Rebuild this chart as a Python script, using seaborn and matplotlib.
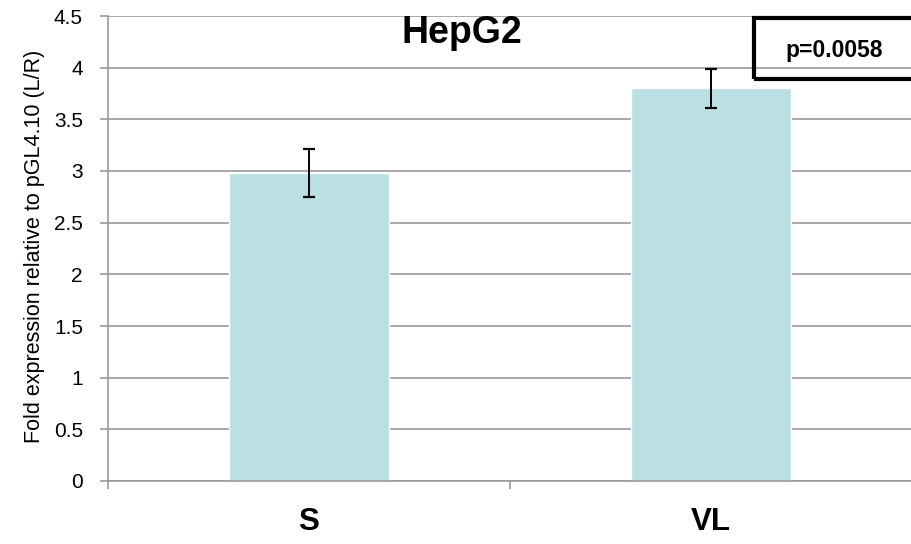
import matplotlib
matplotlib.use("Agg")
import matplotlib.pyplot as plt
from matplotlib.patches import Rectangle
import seaborn as sns
import pandas as pd

# Luciferase reporter data (HepG2)
categories = ["S", "VL"]
fold_expression = [2.98, 3.80]
error = [0.23, 0.19]
y_ticks = [0, 0.5, 1, 1.5, 2, 2.5, 3, 3.5, 4, 4.5]
y_tick_labels = ["0", "0.5", "1", "1.5", "2", "2.5", "3", "3.5", "4", "4.5"]
title = "HepG2"
p_label = "p=0.0058"
y_label = "Fold expression relative to pGL4.10 (L/R)"

df = pd.DataFrame({"group": categories, "value": fold_expression, "err": error})

sns.set_theme(style="white")
plt.rcParams["font.family"] = ["Liberation Sans", "DejaVu Sans"]
plt.rcParams["text.color"] = "black"
plt.rcParams["axes.labelcolor"] = "black"
plt.rcParams["xtick.labelcolor"] = "black"
plt.rcParams["ytick.labelcolor"] = "black"

BAR = "#bbe0e3"
GRID = "#9a9a9a"

fig = plt.figure(figsize=(9.12, 5.44), dpi=100)
ax = fig.add_axes([108 / 912, 63 / 544, 804 / 912, 465 / 544])

sns.barplot(data=df, x="group", y="value", color=BAR, width=0.4,
            errorbar=None, saturation=1, ax=ax, zorder=2)
ax.errorbar(range(len(categories)), df["value"], yerr=df["err"], fmt="none",
            ecolor="black", elinewidth=1.4, capsize=4.3, capthick=1.6, zorder=3)

ax.set_xlim(-0.5, 1.5)
ax.set_ylim(0, 4.5)
ax.set_yticks(y_ticks)
ax.set_yticklabels(y_tick_labels, fontsize=15, color="black")
ax.yaxis.grid(True, color=GRID, linewidth=1.2, zorder=0)
ax.set_axisbelow(True)

for side in ("top", "right"):
    ax.spines[side].set_visible(False)
for side in ("left", "bottom"):
    ax.spines[side].set_color(GRID)
    ax.spines[side].set_linewidth(1.2)

ax.tick_params(axis="y", which="major", direction="out", length=6, width=1.2,
               color=GRID, pad=12, left=True)
# category labels centred, tick marks at the category boundaries
ax.set_xticks(range(len(categories)))
ax.set_xticklabels(categories, fontsize=22.5, fontweight="bold", color="black")
ax.set_xticks([-0.5, 0.5, 1.5], minor=True)
ax.tick_params(axis="x", which="major", length=0, pad=19)
ax.tick_params(axis="x", which="minor", direction="out", length=6, width=1.2,
               color=GRID, bottom=True)

ax.set_xlabel("")
ax.set_ylabel(y_label, fontsize=15.5, color="black")
ax.yaxis.set_label_coords(-0.078, 0.505)

fig.text(462 / 912, 1 - 43 / 544, title, ha="center", va="baseline",
         fontsize=27, fontweight="bold", color="black")

# significance box in the upper-right corner
fig.patches.append(Rectangle((754 / 912, 1 - 79 / 544), 170 / 912, 61 / 544,
                             transform=fig.transFigure, fill=False,
                             edgecolor="black", linewidth=3, zorder=5))
fig.text(834 / 912, 1 - 50 / 544, p_label, ha="center", va="center",
         fontsize=16.5, fontweight="bold", color="black", zorder=6)

fig.savefig("out.png", dpi=100)
